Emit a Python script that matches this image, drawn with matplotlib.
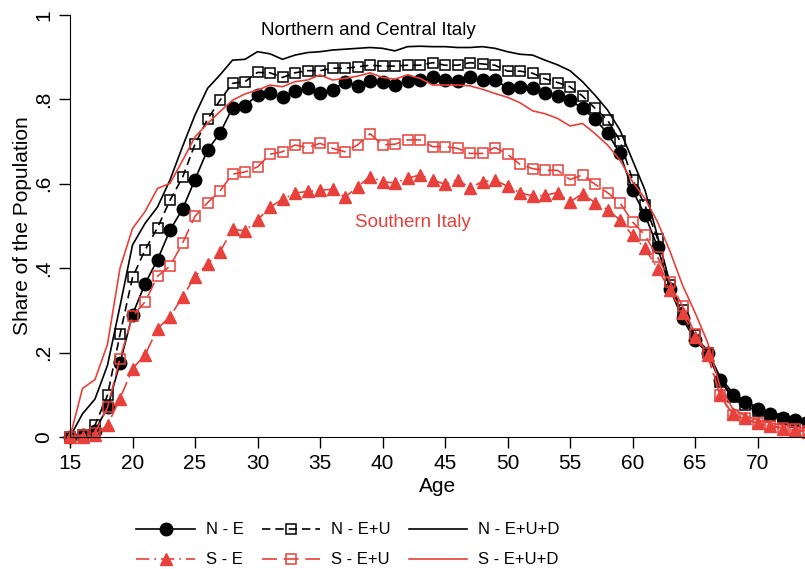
import matplotlib.pyplot as plt
import numpy as np

plt.rcParams['font.family'] = ['Liberation Sans', 'DejaVu Sans']

ages = np.arange(15, 75)

# North
n_e = [0.0, 0.005, 0.015, 0.07, 0.175, 0.29, 0.363, 0.42, 0.49, 0.54,
       0.61, 0.68, 0.72, 0.78, 0.785, 0.81, 0.814, 0.805, 0.82, 0.826,
       0.814, 0.822, 0.842, 0.832, 0.844, 0.842, 0.834, 0.844, 0.846, 0.852,
       0.847, 0.843, 0.852, 0.846, 0.847, 0.827, 0.829, 0.826, 0.814, 0.808,
       0.798, 0.779, 0.753, 0.72, 0.672, 0.585, 0.526, 0.451, 0.35, 0.281,
       0.229, 0.2, 0.134, 0.099, 0.082, 0.067, 0.055, 0.045, 0.04, 0.035]
n_eu = [0.0, 0.005, 0.028, 0.099, 0.243, 0.378, 0.443, 0.496, 0.561, 0.615,
        0.694, 0.753, 0.798, 0.838, 0.842, 0.864, 0.863, 0.852, 0.863, 0.868,
        0.868, 0.874, 0.874, 0.877, 0.881, 0.879, 0.879, 0.881, 0.881, 0.887,
        0.881, 0.881, 0.887, 0.884, 0.881, 0.867, 0.867, 0.862, 0.849, 0.84,
        0.83, 0.808, 0.779, 0.751, 0.702, 0.61, 0.549, 0.47, 0.36, 0.30,
        0.241, 0.2, 0.13, 0.095, 0.075, 0.062, 0.05, 0.042, 0.036, 0.032]
n_eud = [0.0, 0.055, 0.09, 0.17, 0.31, 0.455, 0.506, 0.545, 0.609, 0.688,
         0.763, 0.826, 0.858, 0.893, 0.895, 0.913, 0.908, 0.895, 0.905, 0.911,
         0.913, 0.917, 0.919, 0.921, 0.923, 0.921, 0.915, 0.925, 0.926, 0.925,
         0.925, 0.923, 0.923, 0.925, 0.921, 0.913, 0.907, 0.905, 0.893, 0.882,
         0.868, 0.842, 0.81, 0.775, 0.727, 0.656, 0.585, 0.476, 0.364, 0.289,
         0.237, 0.206, 0.142, 0.105, 0.085, 0.07, 0.058, 0.05, 0.042, 0.037]

# South
s_e = [0.0, 0.0, 0.005, 0.028, 0.091, 0.162, 0.194, 0.257, 0.285, 0.332,
       0.38, 0.41, 0.439, 0.492, 0.489, 0.514, 0.545, 0.563, 0.578, 0.582,
       0.585, 0.587, 0.568, 0.593, 0.617, 0.605, 0.602, 0.613, 0.621, 0.609,
       0.599, 0.609, 0.591, 0.605, 0.609, 0.594, 0.579, 0.571, 0.573, 0.579,
       0.557, 0.577, 0.555, 0.539, 0.514, 0.478, 0.447, 0.399, 0.348, 0.293,
       0.237, 0.194, 0.099, 0.055, 0.044, 0.032, 0.026, 0.019, 0.016, 0.012]
s_eu = [0.0, 0.005, 0.01, 0.07, 0.186, 0.286, 0.32, 0.381, 0.405, 0.459,
        0.523, 0.555, 0.583, 0.623, 0.628, 0.64, 0.67, 0.676, 0.692, 0.686,
        0.696, 0.684, 0.676, 0.692, 0.719, 0.692, 0.694, 0.704, 0.704, 0.688,
        0.688, 0.684, 0.672, 0.672, 0.686, 0.67, 0.646, 0.636, 0.632, 0.632,
        0.61, 0.621, 0.599, 0.579, 0.555, 0.51, 0.478, 0.427, 0.368, 0.31,
        0.245, 0.198, 0.1, 0.051, 0.044, 0.033, 0.027, 0.022, 0.018, 0.015]
s_eud = [0.0, 0.115, 0.136, 0.22, 0.4, 0.494, 0.534, 0.589, 0.601, 0.655,
         0.711, 0.743, 0.771, 0.798, 0.813, 0.822, 0.834, 0.83, 0.842, 0.846,
         0.858, 0.846, 0.85, 0.855, 0.863, 0.852, 0.848, 0.858, 0.85, 0.834,
         0.834, 0.834, 0.832, 0.824, 0.814, 0.805, 0.792, 0.773, 0.766, 0.755,
         0.737, 0.743, 0.719, 0.692, 0.656, 0.605, 0.565, 0.51, 0.44, 0.36,
         0.295, 0.225, 0.12, 0.068, 0.05, 0.04, 0.033, 0.028, 0.024, 0.02]

red = '#E8403A'

fig = plt.figure(figsize=(8.05, 5.69), dpi=100)
ax = fig.add_axes([70/805, 132/569, 735/805, 422/569])

l1, = ax.plot(ages, n_e, color='black', lw=1.2, marker='o', ms=9, label='N - E', clip_on=False)
l2, = ax.plot(ages, n_eu, color='black', lw=1.2, ls=(0, (5, 3)), marker='s', ms=7,
              mfc='none', mew=1.1, label='N - E+U', clip_on=False)
l3, = ax.plot(ages, n_eud, color='black', lw=1.2, label='N - E+U+D', clip_on=False)
l4, = ax.plot(ages, s_e, color=red, lw=1.2, ls=(0, (8, 3, 1, 3)), marker='^', ms=9,
              label='S - E', clip_on=False)
l5, = ax.plot(ages, s_eu, color=red, lw=1.2, ls=(0, (9, 4)), marker='s', ms=7,
              mfc='none', mew=1.1, label='S - E+U', clip_on=False)
l6, = ax.plot(ages, s_eud, color=red, lw=1.2, label='S - E+U+D', clip_on=False)

ax.text(38.9, 0.964, 'Northern and Central Italy', fontsize=13.5, ha='center', va='center')
ax.text(42.4, 0.509, 'Southern Italy', fontsize=13.5, color=red, ha='center', va='center')

ax.set_xlim(15, 73.8)
ax.set_ylim(0, 1)
ax.set_xticks(range(15, 75, 5))
ax.set_yticks([0, 0.2, 0.4, 0.6, 0.8, 1])
ax.set_yticklabels(['0', '.2', '.4', '.6', '.8', '1'], rotation=90, va='center')
ax.tick_params(labelsize=15, length=8, width=1, pad=4)
ax.set_xlabel('Age', fontsize=15, labelpad=3)
ax.set_ylabel('Share of the Population', fontsize=15, labelpad=2)
for s in ['top', 'right']:
    ax.spines[s].set_visible(False)

fig.legend([l1, l4, l2, l5, l3, l6],
           ['N - E', 'S - E', 'N - E+U', 'S - E+U', 'N - E+U+D', 'S - E+U+D'],
           ncol=3, frameon=False, fontsize=12, numpoints=1,
           handlelength=3.5, handletextpad=0.65, columnspacing=1.1, labelspacing=0.9,
           loc='center', bbox_to_anchor=(348/805, 1 - 545/569))

fig.savefig('out.png', dpi=100)
